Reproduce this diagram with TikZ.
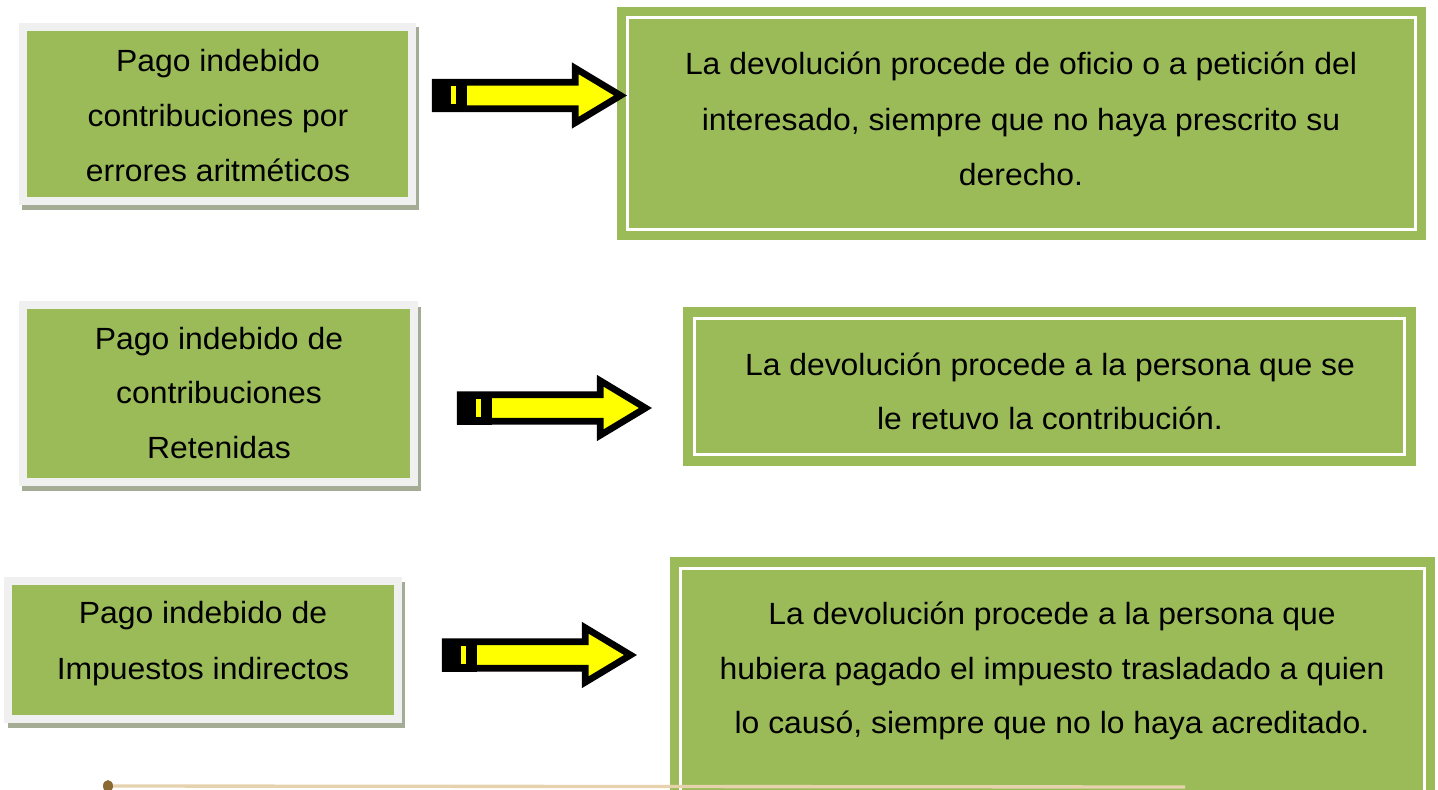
\documentclass[tikz,border=0pt]{standalone}
\usepackage{fontspec}
\setmainfont[FakeStretch=1.04]{Liberation Sans}
\definecolor{boxgreen}{HTML}{9BBB59}
\definecolor{framegray}{HTML}{F0F0F0}
\definecolor{shadowc}{HTML}{A4AC95}
\definecolor{arrowyellow}{HTML}{FFFF00}
\definecolor{tanline}{HTML}{E6D3AE}
\definecolor{dotbrown}{HTML}{8A6A32}
\newcommand\myblockarrow[2]{%
  \filldraw[fill=arrowyellow, draw=black, line width=5pt, line join=miter]
    ({#1+3.3},{#2-13.2}) -- ({#1+143.3},{#2-13.2}) -- ({#1+143.3},{#2-27.2})
    -- ({#1+188.5},{#2}) -- ({#1+143.3},{#2+27.2}) -- ({#1+143.3},{#2+13.2})
    -- ({#1+3.3},{#2+13.2}) -- cycle;
  \fill[black] ({#1},{#2-16.5}) rectangle ({#1+35},{#2+16.5});
  \fill[arrowyellow] ({#1+19},{#2-9.5}) rectangle ({#1+24},{#2+8.5});
}
\begin{document}
\begin{tikzpicture}[x=0.75pt,y=-0.75pt,
  leftbox/.style={draw=framegray, fill=boxgreen, line width=6pt, inner sep=0pt},
  rightbox/.style={fill=boxgreen, draw=none, inner sep=0pt},
  innerline/.style={draw=white, line width=2.25pt},
  txt/.style={anchor=base, inner sep=0pt, font=\fontsize{23}{28}\selectfont}]
\useasboundingbox (0,0) rectangle (1438,789);

% left boxes with shadows
\fill[shadowc] (22,27) rectangle (419,210);
\node[leftbox, minimum width=291.75pt, minimum height=130.5pt] (L1) at (217.5,113.5) {};
\fill[shadowc] (22,307) rectangle (421,491);
\node[leftbox, minimum width=293.6pt, minimum height=132.4pt] (L2) at (218.75,393.75) {};
\fill[shadowc] (8,582) rectangle (405,728);
\node[leftbox, minimum width=292.5pt, minimum height=103.5pt] (L3) at (203,650) {};

% right boxes
\node[rightbox, minimum width=606.75pt, minimum height=174.75pt] (R1) at (1021.5,123.5) {};
\draw[innerline] ([shift={(11,11)}]R1.north west) rectangle ([shift={(-11,-11)}]R1.south east);
\node[rightbox, minimum width=549.75pt, minimum height=119.25pt] (R2) at (1049.5,386.5) {};
\draw[innerline] ([shift={(11.5,11.5)}]R2.north west) rectangle ([shift={(-11.5,-11.5)}]R2.south east);
\node[rightbox, minimum width=573.75pt, minimum height=189.75pt] (R3) at (1052.5,683.5) {};
\draw[innerline] ([shift={(10.5,11.5)}]R3.north west) rectangle ([shift={(-10.5,-10.5)}]R3.south east);

% arrows
\myblockarrow{432}{95.5}
\myblockarrow{457}{408}
\myblockarrow{442}{655}

% texts
\node[txt] (l1a) at (218,71) {Pago indebido};
\node[txt] (l1b) at (218,126) {contribuciones por};
\node[txt] (l1c) at (218,181) {errores aritméticos};
\node[txt] (l2a) at (219,349) {Pago indebido de};
\node[txt] (l2b) at (219,403) {contribuciones};
\node[txt] (l2c) at (219,458) {Retenidas};
\node[txt] (l3a) at (203,623) {Pago indebido de};
\node[txt] (l3b) at (203,679) {Impuestos indirectos};
\node[txt] (r1a) at (1021,74) {La devolución procede de oficio o a petición del};
\node[txt] (r1b) at (1021,130) {interesado, siempre que no haya prescrito su};
\node[txt] (r1c) at (1021,185) {derecho.};
\node[txt] (r2a) at (1050,375) {La devolución procede a la persona que se};
\node[txt] (r2b) at (1050,429) {le retuvo la contribución.};
\node[txt] (r3a) at (1052,624) {La devolución procede a la persona que};
\node[txt] (r3b) at (1052,679) {hubiera pagado el impuesto trasladado a quien};
\node[txt] (r3c) at (1052,733) {lo causó, siempre que no lo haya acreditado.};

% bottom line
\coordinate (bl) at (108,786);
\coordinate (br) at (1185,787);
\draw[tanline, line width=2.5pt] (bl) -- (br);
\fill[dotbrown] (bl) ellipse (5 and 6);
\end{tikzpicture}
\end{document}
